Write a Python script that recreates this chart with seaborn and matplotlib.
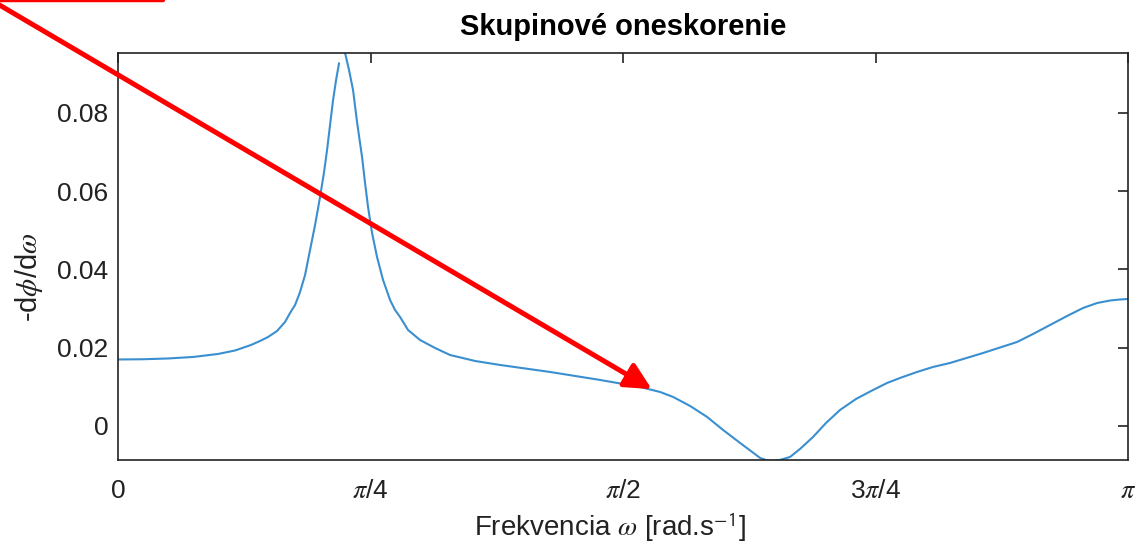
import numpy as np
import pandas as pd
import matplotlib
matplotlib.use("Agg")
import matplotlib.pyplot as plt
from matplotlib.patches import Rectangle
import seaborn as sns

# Group delay -dphi/domega of the filter, sampled over 0..pi
# (two branches: the response is not evaluated right at the resonance)
omega_left = [0.0000, 0.0778, 0.1555, 0.2333, 0.3110, 0.3639, 0.4137, 0.4417,
              0.4666, 0.4946, 0.5194, 0.5350, 0.5506, 0.5661, 0.5817, 0.5972,
              0.6128, 0.6283, 0.6408, 0.6501, 0.6594, 0.6688, 0.6781, 0.6874]
delay_left = [0.01698, 0.01704, 0.01724, 0.01762, 0.01839, 0.01928, 0.02069, 0.02171,
              0.02273, 0.02426, 0.02656, 0.02886, 0.03090, 0.03422, 0.03857, 0.04495,
              0.05134, 0.05849, 0.06487, 0.07049, 0.07688, 0.08326, 0.08837, 0.09271]

omega_right = [0.7061, 0.7185, 0.7310, 0.7434, 0.7590, 0.7683, 0.7776, 0.7901,
               0.8056, 0.8243, 0.8461, 0.8616, 0.8772, 0.9020, 0.9394, 0.9860,
               1.0327, 1.1104, 1.1882, 1.3437, 1.4993, 1.6237, 1.6859, 1.7263,
               1.7792, 1.8321, 1.8818, 1.9347, 1.9721, 1.9969, 2.0187, 2.0374,
               2.0592, 2.0903, 2.1214, 2.1618, 2.2022, 2.2458, 2.2956, 2.3484,
               2.3920, 2.4324, 2.4853, 2.5350, 2.5879, 2.6906, 2.7963, 2.8461,
               2.8990, 2.9518, 3.0016, 3.0452, 3.0856, 3.1167, 3.1416]
delay_right = [0.09530, 0.09092, 0.08581, 0.07764, 0.06870, 0.06206, 0.05593, 0.04929,
               0.04316, 0.03729, 0.03218, 0.02963, 0.02784, 0.02452, 0.02196, 0.01992,
               0.01813, 0.01660, 0.01558, 0.01379, 0.01175, 0.00996, 0.00868, 0.00741,
               0.00511, 0.00230, -0.00102, -0.00434, -0.00664, -0.00817, -0.00881, -0.00894,
               -0.00868, -0.00792, -0.00587, -0.00281, 0.00077, 0.00409, 0.00690, 0.00919,
               0.01098, 0.01226, 0.01379, 0.01507, 0.01609, 0.01864, 0.02145, 0.02350,
               0.02580, 0.02809, 0.03014, 0.03141, 0.03205, 0.03231, 0.03244]

x_ticks = [0, np.pi / 4, np.pi / 2, 3 * np.pi / 4, np.pi]
x_tick_labels = ["0", r"$\pi$/4", r"$\pi$/2", r"3$\pi$/4", r"$\pi$"]
y_ticks = [0, 0.02, 0.04, 0.06, 0.08]
y_tick_labels = ["0", "0.02", "0.04", "0.06", "0.08"]

arrow_target = (1.66, 0.0094)

df = pd.DataFrame({
    "omega": omega_left + omega_right,
    "delay": delay_left + delay_right,
    "branch": ["a"] * len(omega_left) + ["b"] * len(omega_right),
})

sns.set_theme(style="white")
plt.rcParams["font.family"] = ["Liberation Sans", "DejaVu Sans"]
plt.rcParams["mathtext.fontset"] = "stix"

fig = plt.figure(figsize=(11.35, 5.53), dpi=100)
ax = fig.add_axes([0.1040, 0.1682, 0.8899, 0.7360])

sns.lineplot(data=df, x="omega", y="delay", units="branch", estimator=None,
             sort=False, color="#3a8fd0", linewidth=1.5, ax=ax, legend=False)

ax.set_xlim(0, np.pi)
ax.set_ylim(-0.0087, 0.0953)
ax.set_xticks(x_ticks)
ax.set_xticklabels(x_tick_labels)
ax.set_yticks(y_ticks)
ax.set_yticklabels(y_tick_labels)

axis_color = "#222222"
for sp in ax.spines.values():
    sp.set_visible(True)
    sp.set_color(axis_color)
    sp.set_linewidth(1.2)
ax.tick_params(axis="both", direction="in", length=7, width=1.2,
               colors=axis_color, labelsize=19, top=True, right=True,
               labeltop=False, labelright=False)
ax.tick_params(axis="x", pad=14)
ax.tick_params(axis="y", pad=7)

ax.set_title("Skupinové oneskorenie", fontsize=21, fontweight="bold",
             color="black", pad=13)
ax.set_xlabel(r"Frekvencia $\omega$ [rad.s$^{\mathsf{-1}}$]", fontsize=20,
              color=axis_color)
ax.set_ylabel(r"-d$\phi$/d$\omega$", fontsize=21, color=axis_color)
ax.xaxis.set_label_coords(0.487, -0.125)
ax.yaxis.set_label_coords(-0.072, 0.45)

# red callout arrow and frame edge
ax.annotate("", xy=arrow_target, xycoords="data",
            xytext=(-0.01, 1.0025), textcoords="figure fraction",
            annotation_clip=False,
            arrowprops=dict(arrowstyle="-|>,head_length=0.8,head_width=0.4",
                            mutation_scale=20, lw=3.6, color="#ff0000",
                            shrinkA=0, shrinkB=0))
fig.patches.append(Rectangle((-0.05, 1.0), 0.05 + 163 / 1135, 0.1,
                             transform=fig.transFigure, fill=False,
                             edgecolor="#ff0000", lw=3.2, clip_on=False,
                             joinstyle="round"))

fig.savefig("out.png", dpi=100, facecolor="white")
